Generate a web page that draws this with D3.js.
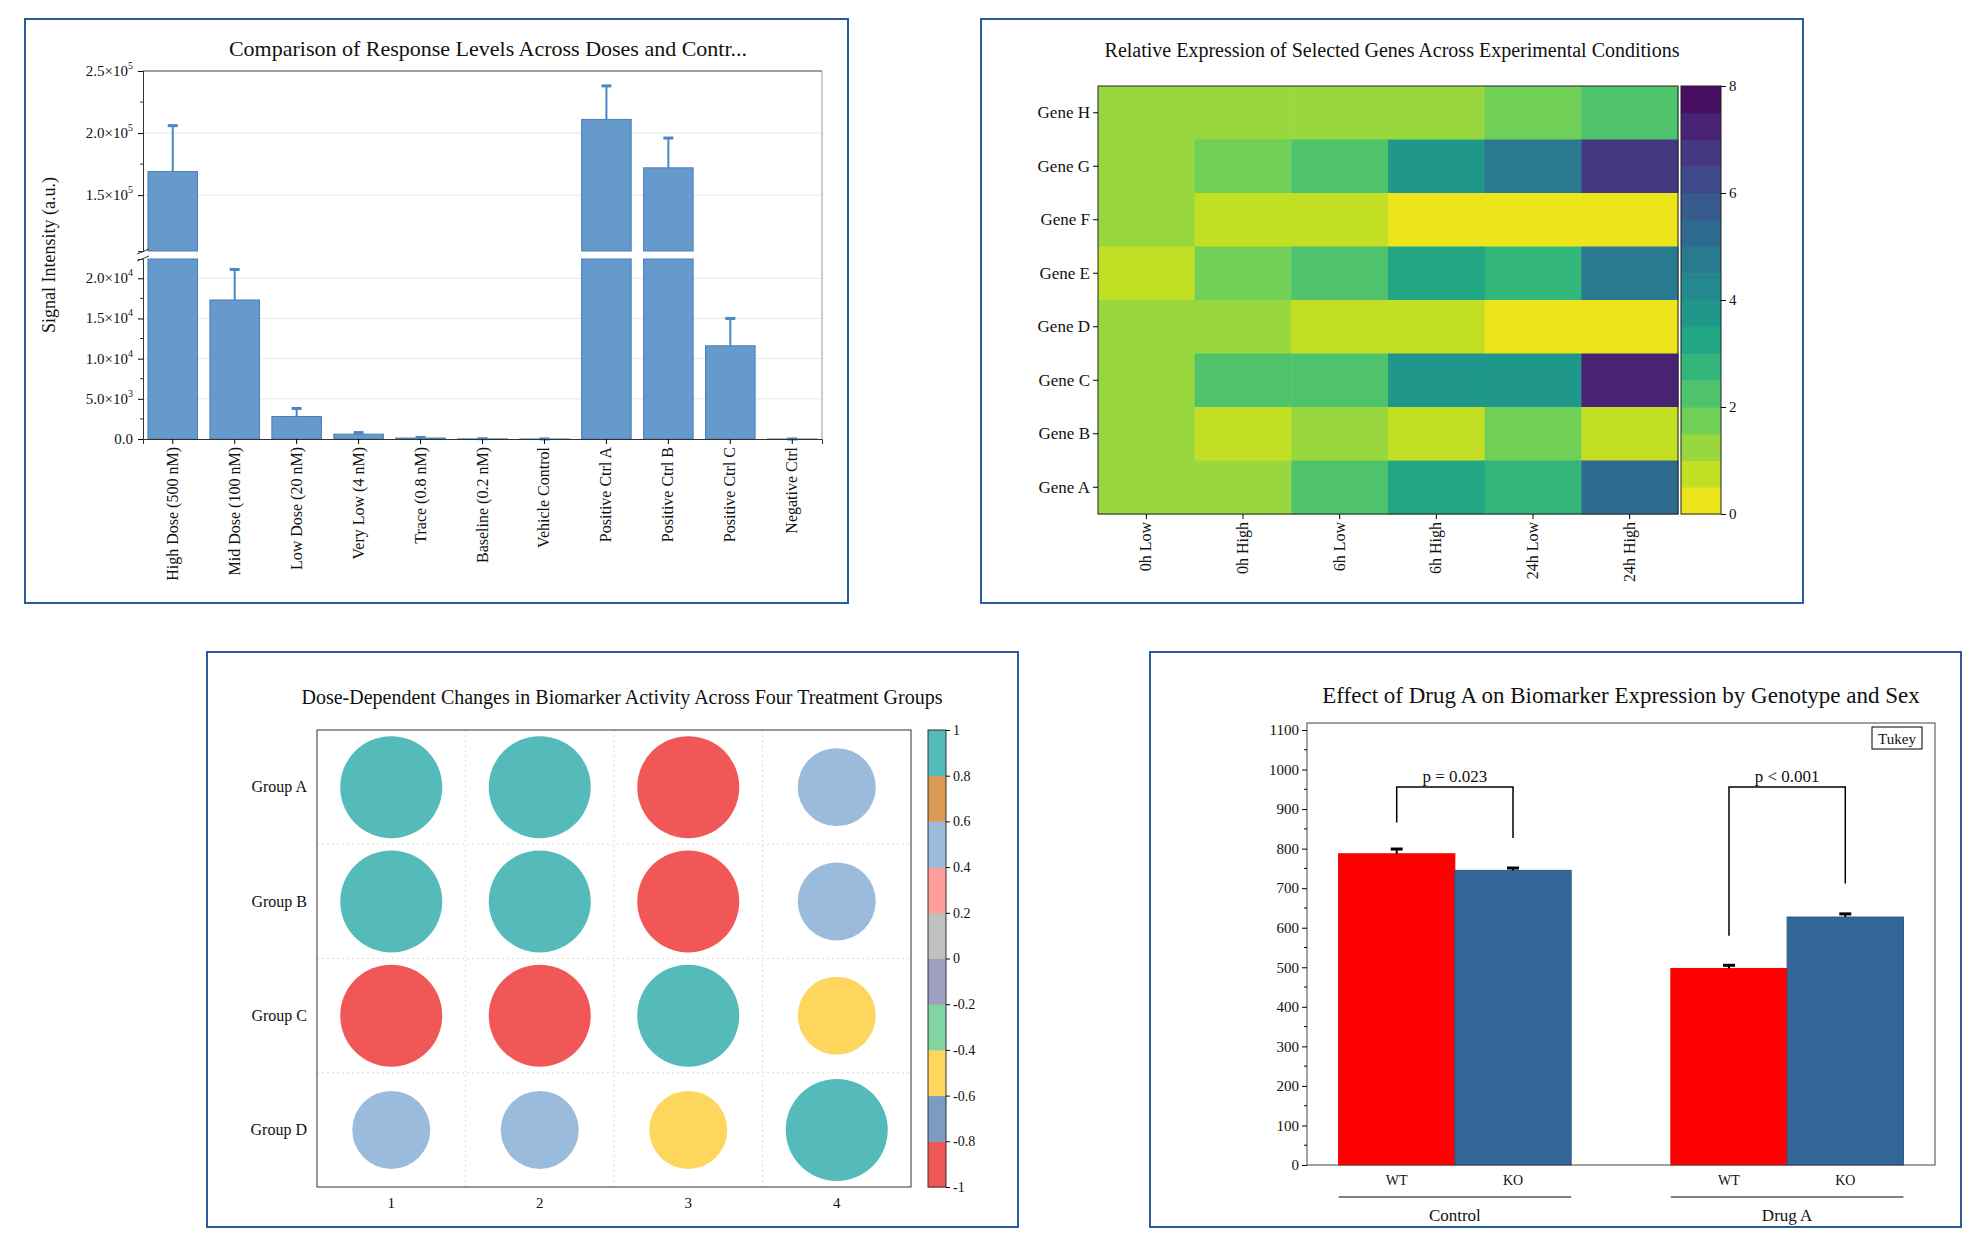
<!DOCTYPE html>
<html>
<head>
<meta charset="utf-8">
<script src="https://cdn.jsdelivr.net/npm/d3@7"></script>
<style>
  body { margin: 0; background: #fff; }
  svg text { font-family: "Liberation Serif", "DejaVu Serif", serif; fill: #111; }
</style>
</head>
<body>
<svg id="c" width="1980" height="1249"></svg>
<script>
// ---- data: panel 1 (broken axis bars)
const doseCats = ['High Dose (500 nM)', 'Mid Dose (100 nM)', 'Low Dose (20 nM)', 'Very Low (4 nM)', 'Trace (0.8 nM)',
  'Baseline (0.2 nM)', 'Vehicle Control', 'Positive Ctrl A', 'Positive Ctrl B', 'Positive Ctrl C', 'Negative Ctrl'];
const doseVals = [169000, 17300, 2800, 600, 120, 20, 5, 211000, 172000, 11600, 3];
const doseErr = [37000, 3800, 1000, 200, 80, 20, 5, 27000, 24000, 3400, 3];
const upperTicks = [150000, 200000, 250000];
const lowerTicks = [0, 5000, 10000, 15000, 20000];

// ---- data: panel 2 (heatmap)
const conditions = ['0h Low', '0h High', '6h Low', '6h High', '24h Low', '24h High'];
const genes = ['Gene H', 'Gene G', 'Gene F', 'Gene E', 'Gene D', 'Gene C', 'Gene B', 'Gene A'];
const expr = [
  [1.2, 1.2, 1.2, 1.2, 1.6, 2.0],
  [1.2, 1.6, 2.0, 3.8, 4.5, 6.6],
  [1.2, 0.8, 0.8, 0.4, 0.4, 0.1],
  [0.8, 1.6, 2.0, 3.3, 2.6, 4.6],
  [1.2, 1.2, 0.8, 0.8, 0.4, 0.4],
  [1.2, 2.0, 2.4, 3.8, 3.8, 7.2],
  [1.2, 0.8, 1.2, 0.8, 1.6, 0.6],
  [1.2, 1.2, 2.0, 3.3, 2.6, 5.0]
];
const heatTicks = [0, 2, 4, 6, 8];

// ---- data: panel 3 (bubble matrix)
const groups = ['Group A', 'Group B', 'Group C', 'Group D'];
const doses = ['1', '2', '3', '4'];
const activity = [
  [0.9, 0.9, -0.9, 0.5],
  [0.9, 0.9, -0.9, 0.5],
  [-0.9, -0.9, 0.9, -0.5],
  [0.5, 0.5, -0.5, 0.9]
];
const bubbleColors = ['#f25757', '#7a9cc0', '#fed65e', '#80d6a0', '#9f9fbf', '#c0c0c0', '#ff9d9a', '#9bbbdc', '#dd9a55', '#55bbba'];
const bubbleTicks = [-1, -0.8, -0.6, -0.4, -0.2, 0, 0.2, 0.4, 0.6, 0.8, 1];

// ---- data: panel 4 (grouped bars)
const treatments = ['Control', 'Drug A'];
const genotypes = ['WT', 'KO'];
const bioMean = [[787, 745], [497, 627]];
const bioErr = [[12, 6], [8, 8]];
const pLabels = ['p = 0.023', 'p < 0.001'];
const bracketLegs = [[866, 827], [580, 712]];
const bracketTop = 956;

const svg = d3.select('#c');

function frame(x, y, w, h) {
  svg.append('rect').attr('x', x).attr('y', y).attr('width', w).attr('height', h)
    .attr('fill', 'none').attr('stroke', '#2a5b9a').attr('stroke-width', 2);
}
function title(x, y, t, size) {
  svg.append('text').attr('x', x).attr('y', y).attr('text-anchor', 'middle')
    .attr('font-size', size).text(t);
}
frame(25, 19, 823, 584);
frame(981, 19, 822, 584);
frame(207, 652, 811, 575);
frame(1150, 652, 811, 575);

// ================= panel 1
(function () {
  const L = 143, R = 822, T = 71, B = 439;
  const upper = d3.scaleLinear().domain([105000, 250000]).range([251, T]);
  const lower = d3.scaleLinear().domain([0, 22400]).range([B, 259]);
  const x = d3.scaleBand().domain(doseCats).range([L, R]).paddingInner(0.2).paddingOuter(0.08);
  const g = svg.append('g');
  title(488, 56, 'Comparison of Response Levels Across Doses and Contr...', 22);

  upperTicks.slice(0, 2).forEach(t => g.append('line').attr('x1', L).attr('x2', R)
    .attr('y1', upper(t)).attr('y2', upper(t)).attr('stroke', '#e6e6e6'));
  lowerTicks.slice(1).forEach(t => g.append('line').attr('x1', L).attr('x2', R)
    .attr('y1', lower(t)).attr('y2', lower(t)).attr('stroke', '#e6e6e6'));

  doseCats.forEach((c, i) => {
    const v = doseVals[i], e = doseErr[i], bx = x(c), bw = x.bandwidth(), cx = bx + bw / 2;
    const sc = v > 22400 ? upper : lower;
    if (v > 22400) {
      g.append('rect').attr('x', bx).attr('width', bw).attr('y', lower(22400)).attr('height', B - lower(22400))
        .attr('fill', '#6699cc').attr('stroke', '#4a7fb5');
      g.append('rect').attr('x', bx).attr('width', bw).attr('y', upper(v)).attr('height', 251 - upper(v))
        .attr('fill', '#6699cc').attr('stroke', '#4a7fb5');
    } else {
      g.append('rect').attr('x', bx).attr('width', bw).attr('y', lower(v)).attr('height', B - lower(v))
        .attr('fill', '#6699cc').attr('stroke', '#4a7fb5');
    }
    g.append('line').attr('x1', cx).attr('x2', cx).attr('y1', sc(v)).attr('y2', sc(v + e))
      .attr('stroke', '#4a86c5').attr('stroke-width', 2);
    g.append('line').attr('x1', cx - 5).attr('x2', cx + 5).attr('y1', sc(v + e)).attr('y2', sc(v + e))
      .attr('stroke', '#4a86c5').attr('stroke-width', 3);
  });
  g.append('rect').attr('x', L - 10).attr('y', 252).attr('width', R - L + 10).attr('height', 6).attr('fill', '#fff');
  g.append('line').attr('x1', L - 6).attr('x2', L + 6).attr('y1', 254).attr('y2', 249).attr('stroke', '#333');
  g.append('line').attr('x1', L - 6).attr('x2', L + 6).attr('y1', 261).attr('y2', 256).attr('stroke', '#333');

  g.append('line').attr('x1', L).attr('x2', R).attr('y1', T).attr('y2', T).attr('stroke', '#444');
  g.append('line').attr('x1', R).attr('x2', R).attr('y1', T).attr('y2', B).attr('stroke', '#999');

  const sup = d => {
    const exp = Math.floor(Math.log10(d)), m = (d / Math.pow(10, exp)).toFixed(1);
    return [m + '×10', exp];
  };
  function axisWithSup(scale, ticks) {
    const a = g.append('g').attr('transform', `translate(${L},0)`)
      .call(d3.axisLeft(scale).tickValues(ticks).tickSize(5).tickFormat(''));
    a.select('.domain').attr('stroke', '#333');
    ticks.forEach(t => {
      const tx = a.append('text').attr('x', -10).attr('y', scale(t) + 5).attr('text-anchor', 'end').attr('font-size', 15);
      if (t === 0) { tx.text('0.0'); return; }
      const [m, e] = sup(t);
      tx.append('tspan').text(m);
      tx.append('tspan').attr('dy', -7).attr('font-size', 10).text(e);
    });
    const step = ticks[1] - ticks[0];
    ticks.forEach(t => a.append('line').attr('x1', 0).attr('x2', -3)
      .attr('y1', scale(t + step / 2)).attr('y2', scale(t + step / 2)).attr('stroke', '#333')
      .attr('visibility', scale(t + step / 2) > scale.range()[1] ? 'visible' : 'hidden'));
  }
  axisWithSup(upper, upperTicks);
  axisWithSup(lower, lowerTicks);

  const xa = g.append('g').attr('transform', `translate(0,${B})`).call(d3.axisBottom(x).tickSize(5));
  xa.select('.domain').attr('stroke', '#333');
  xa.selectAll('text').attr('font-size', 16).attr('transform', 'rotate(-90)')
    .attr('text-anchor', 'end').attr('dx', -8).attr('dy', 5).attr('x', 0).attr('y', 0);
  g.append('text').attr('transform', 'translate(55,255) rotate(-90)').attr('text-anchor', 'middle')
    .attr('font-size', 18).text('Signal Intensity (a.u.)');
})();

// ================= panel 2
(function () {
  const L = 1098, R = 1678, T = 86, B = 514;
  const x = d3.scaleBand().domain(conditions).range([L, R]);
  const y = d3.scaleBand().domain(genes).range([T, B]);
  const q = d3.scaleQuantize().domain([0, 8]).range(d3.range(16).map(i => d3.interpolateViridis(1 - (i + 0.5) / 16)));
  const g = svg.append('g');
  title(1392, 57, 'Relative Expression of Selected Genes Across Experimental Conditions', 20);
  genes.forEach((gn, r) => conditions.forEach((c, k) => {
    g.append('rect').attr('x', x(c)).attr('y', y(gn)).attr('width', x.bandwidth() + 0.5).attr('height', y.bandwidth() + 0.5)
      .attr('fill', q(expr[r][k]));
  }));
  g.append('rect').attr('x', L).attr('y', T).attr('width', R - L).attr('height', B - T).attr('fill', 'none').attr('stroke', '#222');
  const ya = g.append('g').attr('transform', `translate(${L},0)`).call(d3.axisLeft(y).tickSize(5));
  ya.select('.domain').remove();
  ya.selectAll('text').attr('font-size', 17);
  const xa = g.append('g').attr('transform', `translate(0,${B})`).call(d3.axisBottom(x).tickSize(5));
  xa.select('.domain').remove();
  xa.selectAll('text').attr('font-size', 16).attr('transform', 'rotate(-90)')
    .attr('text-anchor', 'end').attr('dx', -8).attr('dy', 5).attr('x', 0).attr('y', 0);
  const cb = d3.scaleLinear().domain([0, 8]).range([B, T]);
  d3.range(16).forEach(i => g.append('rect').attr('x', 1681).attr('width', 40)
    .attr('y', cb((i + 1) * 0.5)).attr('height', cb(0) - cb(0.5) + 0.5).attr('fill', q(i * 0.5 + 0.25)));
  g.append('rect').attr('x', 1681).attr('y', T).attr('width', 40).attr('height', B - T).attr('fill', 'none').attr('stroke', '#222');
  const ca = g.append('g').attr('transform', 'translate(1721,0)').call(d3.axisRight(cb).tickValues(heatTicks).tickSize(5));
  ca.select('.domain').remove();
  ca.selectAll('text').attr('font-size', 15);
})();

// ================= panel 3
(function () {
  const L = 317, R = 911, T = 730, B = 1187;
  const x = d3.scaleBand().domain(doses).range([L, R]);
  const y = d3.scaleBand().domain(groups).range([T, B]);
  const col = d3.scaleQuantize().domain([-1, 1]).range(bubbleColors);
  const rad = d3.scaleLinear().domain([0, 1]).range([24, 54]);
  const g = svg.append('g');
  title(622, 704, 'Dose-Dependent Changes in Biomarker Activity Across Four Treatment Groups', 20);
  doses.slice(1).forEach(d => g.append('line').attr('x1', x(d)).attr('x2', x(d)).attr('y1', T).attr('y2', B)
    .attr('stroke', '#ddd').attr('stroke-dasharray', '2,3'));
  groups.slice(1).forEach(d => g.append('line').attr('y1', y(d)).attr('y2', y(d)).attr('x1', L).attr('x2', R)
    .attr('stroke', '#ddd').attr('stroke-dasharray', '2,3'));
  groups.forEach((gr, r) => doses.forEach((d, k) => {
    const v = activity[r][k];
    g.append('circle').attr('cx', x(d) + x.bandwidth() / 2).attr('cy', y(gr) + y.bandwidth() / 2)
      .attr('r', rad(Math.abs(v))).attr('fill', col(v));
  }));
  g.append('rect').attr('x', L).attr('y', T).attr('width', R - L).attr('height', B - T).attr('fill', 'none').attr('stroke', '#333');
  const ya = g.append('g').attr('transform', `translate(${L},0)`).call(d3.axisLeft(y).tickSize(0).tickPadding(10));
  ya.select('.domain').remove();
  ya.selectAll('text').attr('font-size', 16);
  const xa = g.append('g').attr('transform', `translate(0,${B})`).call(d3.axisBottom(x).tickSize(0).tickPadding(10));
  xa.select('.domain').remove();
  xa.selectAll('text').attr('font-size', 15);
  const cb = d3.scaleLinear().domain([-1, 1]).range([B, T]);
  bubbleColors.forEach((c, i) => g.append('rect').attr('x', 928).attr('width', 18)
    .attr('y', cb(-1 + (i + 1) * 0.2)).attr('height', cb(0) - cb(0.2) + 0.5).attr('fill', c));
  g.append('rect').attr('x', 928).attr('y', T).attr('width', 18).attr('height', B - T).attr('fill', 'none').attr('stroke', '#333');
  const ca = g.append('g').attr('transform', 'translate(946,0)').call(d3.axisRight(cb).tickValues(bubbleTicks).tickSize(4).tickFormat(d => String(+d.toFixed(1)).replace('−', '-')));
  ca.select('.domain').remove();
  ca.selectAll('text').attr('font-size', 14);
})();

// ================= panel 4
(function () {
  const L = 1307, R = 1935, T = 723, B = 1165;
  const y = d3.scaleLinear().domain([0, 1100]).range([B, 730]);
  const x0 = d3.scaleBand().domain(treatments).range([L, R]).paddingInner(0.3).paddingOuter(0.095);
  const x1 = d3.scaleBand().domain(genotypes).range([0, x0.bandwidth()]);
  const cols = ['#ff0000', '#336699'];
  const g = svg.append('g');
  title(1621, 703, 'Effect of Drug A on Biomarker Expression by Genotype and Sex', 23);
  treatments.forEach((t, i) => {
    genotypes.forEach((gt, j) => {
      const bx = x0(t) + x1(gt), cx = bx + x1.bandwidth() / 2, v = bioMean[i][j], e = bioErr[i][j];
      g.append('rect').attr('x', bx).attr('width', x1.bandwidth()).attr('y', y(v)).attr('height', B - y(v))
        .attr('fill', cols[j]).attr('stroke', j ? '#2a5580' : '#ff0000');
      g.append('line').attr('x1', cx).attr('x2', cx).attr('y1', y(v)).attr('y2', y(v + e)).attr('stroke', '#000').attr('stroke-width', 2);
      g.append('line').attr('x1', cx - 6).attr('x2', cx + 6).attr('y1', y(v + e)).attr('y2', y(v + e)).attr('stroke', '#000').attr('stroke-width', 3);
      g.append('text').attr('x', cx).attr('y', B + 20).attr('text-anchor', 'middle').attr('font-size', 14).text(gt);
    });
    const xa = x0(t) + x1.bandwidth() / 2, xb = xa + x1.bandwidth();
    g.append('path').attr('d', `M${xa},${y(bracketLegs[i][0])}V${y(bracketTop)}H${xb}V${y(bracketLegs[i][1])}`)
      .attr('fill', 'none').attr('stroke', '#000').attr('stroke-width', 1.5);
    g.append('text').attr('x', (xa + xb) / 2).attr('y', y(bracketTop) - 5).attr('text-anchor', 'middle')
      .attr('font-size', 17).text(pLabels[i]);
    g.append('line').attr('x1', x0(t)).attr('x2', x0(t) + x0.bandwidth()).attr('y1', B + 32).attr('y2', B + 32).attr('stroke', '#000');
    g.append('text').attr('x', x0(t) + x0.bandwidth() / 2).attr('y', B + 56).attr('text-anchor', 'middle')
      .attr('font-size', 17).text(t);
  });
  g.append('rect').attr('x', L).attr('y', T).attr('width', R - L).attr('height', B - T).attr('fill', 'none').attr('stroke', '#444');
  const ya = g.append('g').attr('transform', `translate(${L},0)`)
    .call(d3.axisLeft(y).tickValues(d3.range(0, 1101, 100)).tickSize(5).tickFormat(d3.format('d')));
  ya.select('.domain').remove();
  ya.selectAll('text').attr('font-size', 15);
  d3.range(50, 1100, 100).forEach(t => ya.append('line').attr('x1', 0).attr('x2', -3).attr('y1', y(t)).attr('y2', y(t)).attr('stroke', '#000'));
  g.append('rect').attr('x', 1872).attr('y', 727).attr('width', 50).attr('height', 22).attr('fill', '#fff').attr('stroke', '#000');
  g.append('text').attr('x', 1897).attr('y', 744).attr('text-anchor', 'middle').attr('font-size', 15).text('Tukey');
})();
</script>
</body>
</html>
